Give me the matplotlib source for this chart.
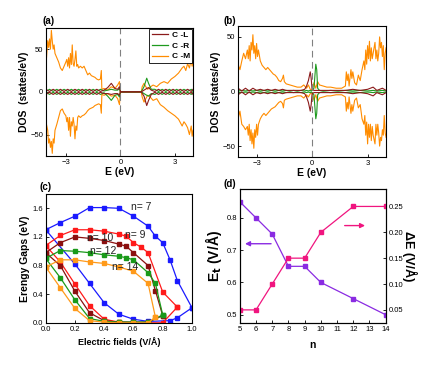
import matplotlib
matplotlib.use('Agg')
import matplotlib.pyplot as plt

plt.rcParams['font.family'] = ['Liberation Sans', 'DejaVu Sans']
plt.rcParams['xtick.direction'] = 'in'
plt.rcParams['ytick.direction'] = 'in'
plt.rcParams['xtick.labelsize'] = 5.5
plt.rcParams['ytick.labelsize'] = 5.5
plt.rcParams['axes.linewidth'] = 0.8

# ---------------- panel (a) DOS ----------------
ea_m = [-4.1, -4.0, -3.95, -3.9, -3.85, -3.8, -3.75, -3.7, -3.65, -3.6,
        -3.5, -3.4, -3.3, -3.2, -3.1, -3.0, -2.95, -2.9, -2.85, -2.8,
        -2.75, -2.7, -2.65, -2.6, -2.55, -2.5, -2.45, -2.4, -2.35, -2.3,
        -2.2, -2.1, -2.0, -1.9, -1.8, -1.7, -1.6, -1.5, -1.4, -1.3,
        -1.2, -1.1, -1.05, -1.02, -0.9, -0.7, -0.5, -0.3, -0.15, -0.05,
        0.0, 1.15, 1.2, 1.3, 1.4, 1.5, 1.6, 1.8, 2.0, 2.2,
        2.4, 2.6, 2.8, 3.0, 3.2, 3.4, 3.5, 3.6, 3.7, 3.8,
        3.9, 3.95, 4.0]
cm_up_a = [30, 60, 52, 62, 50, 72, 60, 50, 55, 45,
           40, 35, 28, 25, 30, 35, 38, 30, 40, 28,
           45, 32, 55, 33, 30, 38, 48, 30, 32, 28,
           30, 28, 30, 25, 20, 22, 19, 18, 17, 15,
           14, 15, 25, 3, 4, 2, 6, 4, 8, 12,
           0, 0, 6, 10, 6, 3, 5, 8, 6, 10,
           12, 10, 15, 18, 22, 28, 30, 25, 33, 28,
           38, 30, 35]
cm_dn_a = [-35, -45, -60, -55, -65, -58, -72, -55, -60, -45,
           -38, -30, -22, -20, -25, -28, -35, -30, -45, -30,
           -52, -35, -40, -30, -38, -55, -40, -45, -30, -28,
           -30, -28, -27, -25, -22, -20, -19, -18, -16, -15,
           -14, -15, -25, -3, -4, -2, -5, -4, -8, -15,
           0, 0, -6, -12, -8, -4, -5, -10, -8, -15,
           -18, -22, -25, -28, -32, -40, -35, -38, -42, -50,
           -40, -52, -45]

ea_s = [-4.1, -3.9, -3.7, -3.5, -3.3, -3.1, -2.9, -2.7, -2.5, -2.3,
        -2.1, -1.9, -1.7, -1.5, -1.3, -1.1, -0.9, -0.7, -0.5, -0.3,
        -0.15, -0.05, 0.0, 1.15, 1.3, 1.45, 1.55, 1.7, 1.9, 2.1,
        2.3, 2.5, 2.7, 2.9, 3.1, 3.3, 3.5, 3.7, 3.9, 4.0]
cl_up_a = [3, 0.5, 3, 0.5, 3, 0.5, 3, 0.5, 3, 0.5,
           3, 0.5, 3, 0.5, 3, 0.5, 2, 5, 10, 4,
           3, 6, 0, 0, 2, 4, 5, 2, 0.5, 3,
           0.5, 3, 0.5, 3, 0.5, 3, 0.5, 3, 0.5, 3]
cl_dn_a = [-3, -0.5, -3, -0.5, -3, -0.5, -3, -0.5, -3, -0.5,
           -3, -0.5, -3, -0.5, -3, -0.5, -2, -2, -3, -2,
           -2, -4, 0, 0, -5, -16, -10, -3, -0.5, -3,
           -0.5, -3, -0.5, -3, -0.5, -3, -0.5, -3, -0.5, -3]
cr_up_a = [0.5, 3, 0.5, 3, 0.5, 3, 0.5, 3, 0.5, 3,
           0.5, 3, 0.5, 3, 0.5, 3, 1, 2, 3, 2,
           2, 4, 0, 0, 6, 16, 10, 3, 3, 0.5,
           3, 0.5, 3, 0.5, 3, 0.5, 3, 0.5, 3, 0.5]
cr_dn_a = [-0.5, -3, -0.5, -3, -0.5, -3, -0.5, -3, -0.5, -3,
           -0.5, -3, -0.5, -3, -0.5, -3, -1, -5, -10, -4,
           -3, -6, 0, 0, -2, -4, -5, -2, -3, -0.5,
           -3, -0.5, -3, -0.5, -3, -0.5, -3, -0.5, -3, -0.5]

# ---------------- panel (b) DOS ----------------
eb_m = [-4.0, -3.9, -3.8, -3.7, -3.6, -3.5, -3.45, -3.4, -3.35, -3.3,
        -3.25, -3.2, -3.15, -3.1, -3.05, -3.0, -2.95, -2.9, -2.8, -2.7,
        -2.6, -2.5, -2.4, -2.3, -2.2, -2.1, -2.0, -1.9, -1.8, -1.7,
        -1.6, -1.55, -1.5, -1.4, -1.2, -1.0, -0.8, -0.6, -0.45, -0.3,
        -0.2, -0.1, 0.0, 0.1, 0.2, 0.3, 0.4, 0.6, 0.8, 1.0,
        1.3, 1.6, 1.8, 1.85, 1.9, 1.95, 2.0, 2.1, 2.15, 2.2,
        2.3, 2.4, 2.5, 2.6, 2.7, 2.8, 2.85, 2.9, 2.95, 3.0,
        3.05, 3.1, 3.15, 3.2, 3.25, 3.3, 3.4, 3.45, 3.5, 3.55,
        3.6, 3.65, 3.7, 3.75, 3.8, 3.85, 3.9, 3.95, 4.0]
cm_up_b = [25, 20, 28, 35, 30, 38, 30, 42, 28, 45,
           38, 52, 35, 42, 30, 44, 32, 38, 28, 24,
           22, 20, 22, 20, 18, 16, 15, 13, 10, 9,
           12, 15, 9, 7, 6, 5, 4, 4, 6, 3,
           6, 2, 1, 8, 3, 9, 6, 5, 4, 4,
           3, 3, 5, 18, 10, 16, 5, 20, 12, 18,
           8, 6, 15, 10, 20, 28, 20, 38, 25, 42,
           30, 46, 28, 40, 30, 35, 45, 30, 38, 28,
           35, 50, 40, 45, 32, 42, 20, 35, 40]
cm_dn_b = [-25, -18, -30, -32, -35, -32, -40, -30, -45, -35,
           -48, -38, -52, -35, -42, -30, -40, -30, -25, -22,
           -20, -22, -20, -18, -16, -15, -14, -12, -10, -9,
           -11, -15, -8, -7, -6, -5, -4, -4, -6, -3,
           -5, -2, -1, -8, -3, -9, -6, -5, -4, -4,
           -3, -3, -5, -18, -10, -16, -5, -20, -12, -18,
           -8, -6, -15, -12, -25, -30, -22, -40, -28, -48,
           -30, -42, -30, -45, -32, -40, -48, -30, -40, -30,
           -38, -50, -42, -45, -35, -40, -22, -38, -42]

eb_s = [-4.0, -3.8, -3.6, -3.4, -3.2, -3.0, -2.8, -2.6, -2.4, -2.2,
        -2.0, -1.8, -1.6, -1.4, -1.2, -1.0, -0.8, -0.6, -0.4, -0.3,
        -0.2, -0.1, -0.05, 0.0, 0.1, 0.2, 0.25, 0.3, 0.4, 0.6,
        1.0, 1.4, 1.8, 2.2, 2.6, 3.0, 3.3, 3.5, 3.8, 4.0]
cl_up_b = [3, 0.5, 3, 0.5, 3, 1, 2, 1, 2, 1,
           2, 1, 2, 1, 1, 1, 1, 1, 2, 5,
           10, 18, 12, 2, 1, 1, 1, 1, 1, 1,
           1, 1, 1, 2, 1, 2, 4, 1, 3, 1]
cl_dn_b = [-3, -0.5, -3, -0.5, -3, -1, -2, -1, -2, -1,
           -2, -1, -2, -1, -1, -1, -1, -1, -2, -5,
           -10, -18, -12, -2, -1, -1, -1, -1, -1, -1,
           -1, -1, -1, -2, -1, -2, -4, -1, -3, -1]
cr_up_b = [0.5, 1, 0.5, 1, 0.5, 1, 0.5, 1, 0.5, 1,
           0.5, 1, 0.5, 1, 0.5, 1, 0.5, 1, 0.5, 1,
           0.5, 1, 0.5, 1, 3, 25, 20, 3, 1, 0.5,
           1, 0.5, 1, 0.5, 1, 0.5, 1, 0.5, 1, 0.5]
cr_dn_b = [-0.5, -1, -0.5, -1, -0.5, -1, -0.5, -1, -0.5, -1,
           -0.5, -1, -0.5, -1, -0.5, -1, -0.5, -1, -0.5, -1,
           -0.5, -1, -0.5, -1, -3, -25, -20, -3, -1, -0.5,
           -1, -0.5, -1, -0.5, -1, -0.5, -1, -0.5, -1, -0.5]

# ---------------- panel (c) gaps vs field ----------------
f7_up = [0, 0.1, 0.2, 0.3, 0.4, 0.5, 0.6, 0.7, 0.75, 0.8, 0.85, 0.9, 1.0]
g7_up = [1.30, 1.40, 1.49, 1.61, 1.61, 1.60, 1.49, 1.35, 1.21, 1.12, 0.88, 0.59, 0.21]
f7_dn = [0, 0.2, 0.3, 0.4, 0.5, 0.6, 0.7, 0.85, 0.9, 1.0]
g7_dn = [1.30, 0.82, 0.55, 0.28, 0.12, 0.05, 0.02, 0.03, 0.07, 0.21]

f9_up = [0, 0.1, 0.2, 0.3, 0.4, 0.5, 0.55, 0.6, 0.65, 0.7, 0.8, 0.9]
g9_up = [1.08, 1.22, 1.30, 1.30, 1.28, 1.24, 1.21, 1.12, 1.06, 0.98, 0.43, 0.22]
f9_dn = [0, 0.1, 0.2, 0.3, 0.4, 0.5, 0.6, 0.7, 0.8, 0.9]
g9_dn = [1.08, 0.85, 0.54, 0.24, 0.05, 0.01, 0.0, 0.0, 0.0, 0.22]

f10_up = [0, 0.1, 0.2, 0.3, 0.4, 0.5, 0.55, 0.6, 0.7, 0.75, 0.8]
g10_up = [0.98, 1.12, 1.20, 1.18, 1.15, 1.10, 1.07, 0.98, 0.80, 0.45, 0.10]
f10_dn = [0, 0.1, 0.2, 0.3, 0.4, 0.5, 0.6, 0.7, 0.8]
g10_dn = [0.98, 0.80, 0.44, 0.14, 0.03, 0.01, 0.01, 0.01, 0.10]

f12_up = [0, 0.1, 0.2, 0.3, 0.4, 0.5, 0.55, 0.6, 0.7, 0.75, 0.8]
g12_up = [0.90, 1.01, 1.00, 0.98, 0.95, 0.93, 0.91, 0.88, 0.70, 0.55, 0.11]
f12_dn = [0, 0.1, 0.2, 0.3, 0.4, 0.5, 0.6, 0.7, 0.8]
g12_dn = [0.90, 0.63, 0.32, 0.06, 0.02, 0.01, 0.01, 0.01, 0.11]

f14_up = [0, 0.1, 0.2, 0.3, 0.4, 0.5, 0.6, 0.7, 0.75]
g14_up = [0.78, 0.88, 0.88, 0.85, 0.83, 0.78, 0.72, 0.55, 0.08]
f14_dn = [0, 0.1, 0.2, 0.3, 0.4, 0.5, 0.6, 0.7, 0.75]
g14_dn = [0.78, 0.49, 0.20, 0.03, 0.01, 0.0, 0.0, 0.0, 0.08]

# ---------------- panel (d) ----------------
n_vals = [5, 6, 7, 8, 9, 10, 12, 14]
et_vals = [0.85, 0.80, 0.75, 0.65, 0.65, 0.60, 0.55, 0.50]
de_vals = [0.05, 0.05, 0.10, 0.15, 0.15, 0.20, 0.25, 0.25]

c_L = '#8B1A1A'
c_R = '#1E9A1E'
c_M = '#FF8C00'

fig = plt.figure(figsize=(4.29, 3.66), dpi=100)


def dos_panel(ax, em, mu, md, es, lu, ld, ru, rd, ylim, yt):
    ax.plot(em, mu, color=c_M, lw=0.8)
    ax.plot(em, md, color=c_M, lw=0.8)
    ax.plot(es, ru, color=c_R, lw=0.8)
    ax.plot(es, rd, color=c_R, lw=0.8)
    ax.plot(es, lu, color=c_L, lw=0.8)
    ax.plot(es, ld, color=c_L, lw=0.8)
    ax.axvline(0, color='gray', ls=(0, (6, 4)), lw=0.8)
    ax.set_xlim(-4.1, 4.0)
    ax.set_ylim(-ylim, ylim)
    ax.set_xticks([-3, 0, 3])
    ax.set_yticks(yt)
    ax.set_xlabel('E (eV)', fontsize=7.5, fontweight='bold', labelpad=1)
    ax.set_ylabel('DOS  (states/eV)', fontsize=7.5, fontweight='bold', labelpad=1)
    ax.tick_params(length=2, width=0.6, pad=2)


ax_a = fig.add_axes([0.107, 0.574, 0.343, 0.350])
dos_panel(ax_a, ea_m, cm_up_a, cm_dn_a, ea_s, cl_up_a, cl_dn_a, cr_up_a, cr_dn_a, 75, [-50, 0, 50])
from matplotlib.lines import Line2D
hl = [Line2D([], [], color=c_L, lw=0.9), Line2D([], [], color=c_R, lw=0.9),
      Line2D([], [], color=c_M, lw=0.9)]
leg = ax_a.legend(hl, ['C -L', 'C -R', 'C -M'], loc='upper right', fontsize=6,
                  prop={'weight': 'bold', 'size': 6}, handlelength=2.0, handletextpad=0.4,
                  borderpad=0.3, labelspacing=0.35, fancybox=False, framealpha=1,
                  edgecolor='black', borderaxespad=0.1)
leg.get_frame().set_linewidth(0.6)
fig.text(0.100, 0.935, '(a)', fontsize=7, fontweight='bold')

ax_b = fig.add_axes([0.555, 0.571, 0.345, 0.358])
dos_panel(ax_b, eb_m, cm_up_b, cm_dn_b, eb_s, cl_up_b, cl_dn_b, cr_up_b, cr_dn_b, 60, [-50, 0, 50])
ax_b.set_xlim(-4.0, 4.0)
fig.text(0.522, 0.935, '(b)', fontsize=7, fontweight='bold')

# panel (c)
ax_c = fig.add_axes([0.1065, 0.118, 0.341, 0.352])
loops = [(f7_up, g7_up, f7_dn, g7_dn, '#1A1AFF'),
         (f9_up, g9_up, f9_dn, g9_dn, '#FF1A1A'),
         (f10_up, g10_up, f10_dn, g10_dn, '#8B1010'),
         (f12_up, g12_up, f12_dn, g12_dn, '#1A9A1A'),
         (f14_up, g14_up, f14_dn, g14_dn, '#FF9A1A')]
for fu, gu, fd, gd, col in loops:
    ax_c.plot(fu, gu, '-s', color=col, lw=0.9, ms=2.6)
    ax_c.plot(fd, gd, '-s', color=col, lw=0.9, ms=2.6)
ax_c.set_xlim(0, 1.0)
ax_c.set_ylim(0, 1.8)
ax_c.set_xticks([0.0, 0.2, 0.4, 0.6, 0.8, 1.0])
ax_c.set_yticks([0.0, 0.4, 0.8, 1.2, 1.6])
ax_c.set_xlabel('Electric fields (V/Å)', fontsize=6.5, fontweight='bold', labelpad=3)
ax_c.set_ylabel('Erengy Gaps (eV)', fontsize=7.5, fontweight='bold', labelpad=2)
ax_c.tick_params(length=2, width=0.6, pad=2)
for tx, ty, s in [(0.585, 1.57, 'n= 7'), (0.545, 1.19, 'n= 9'), (0.285, 1.14, 'n= 10'),
                  (0.305, 0.96, 'n= 12'), (0.45, 0.74, 'n= 14')]:
    ax_c.text(tx, ty, s, fontsize=7.5, color='#222222')
fig.text(0.093, 0.480, '(c)', fontsize=7, fontweight='bold')

# panel (d)
ax_d = fig.add_axes([0.559, 0.118, 0.340, 0.366])
ax_d.plot(n_vals, et_vals, '-s', color='#8A2BE2', lw=0.9, ms=3)
ax_d.set_xlim(5, 14)
ax_d.set_ylim(0.475, 0.89)
ax_d.set_xticks(range(5, 15))
ax_d.set_yticks([0.5, 0.6, 0.7, 0.8])
ax_d.set_xlabel('n', fontsize=7.5, fontweight='bold', labelpad=5)
ax_d.set_ylabel('E$_\\mathbf{t}$ (V/Å)', fontsize=10, fontweight='bold', labelpad=2)
ax_d.tick_params(length=2, width=0.6, pad=2)
ax_d.annotate('', xy=(5.15, 0.72), xytext=(7.1, 0.72),
              arrowprops=dict(arrowstyle='-|>', color='#8A2BE2', lw=1.0, mutation_scale=7))
ax_d2 = ax_d.twinx()
ax_d2.plot(n_vals, de_vals, '-s', color='#F0157F', lw=0.9, ms=3)
ax_d2.set_ylim(0.025, 0.284)
ax_d2.set_yticks([0.05, 0.10, 0.15, 0.20, 0.25])
ax_d2.set_yticklabels(['0.05', '0.10', '0.15', '0.20', '0.25'])
ax_d2.set_ylabel('ΔE (V/Å)', fontsize=9, fontweight='bold', rotation=-90, labelpad=10)
ax_d2.tick_params(length=2, width=0.6, pad=2)
ax_d2.annotate('', xy=(12.9, 0.213), xytext=(11.3, 0.213),
               arrowprops=dict(arrowstyle='-|>', color='#F0157F', lw=1.0, mutation_scale=7))
fig.text(0.522, 0.490, '(d)', fontsize=7, fontweight='bold')

fig.savefig('out.png', dpi=100)
